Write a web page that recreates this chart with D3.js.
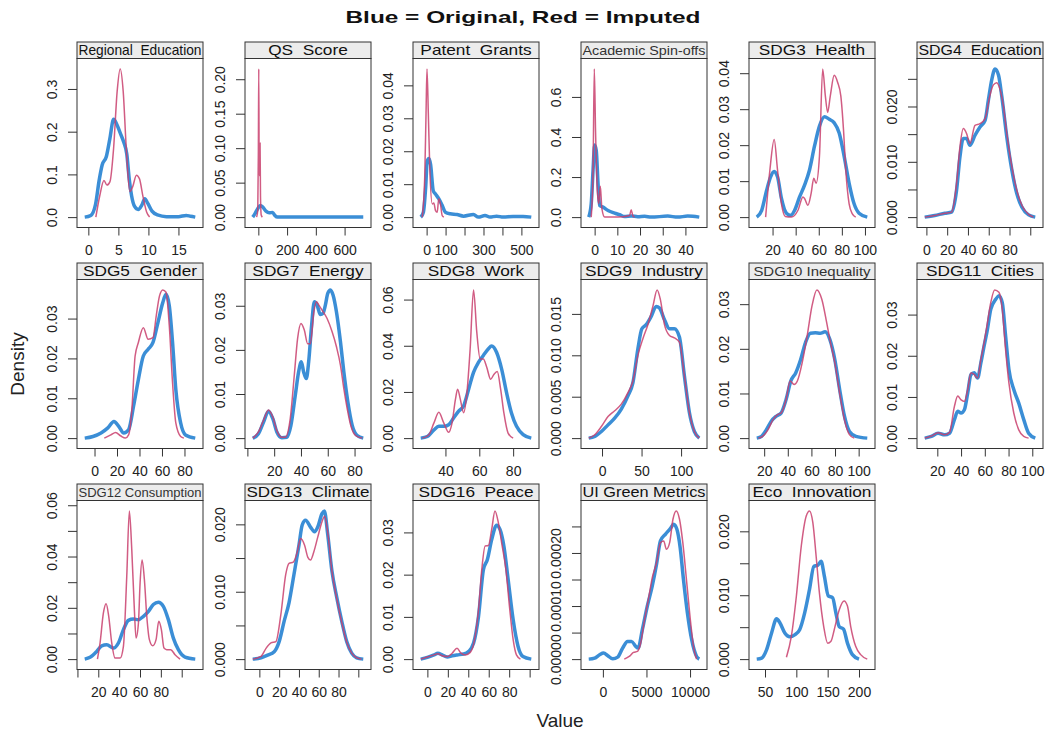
<!DOCTYPE html>
<html lang="en">
<head>
<meta charset="UTF-8">
<title>Density plots: original vs imputed</title>
<script src="https://cdn.jsdelivr.net/npm/d3@7"></script>
<style>
  body { margin: 0; background: #fff; }
  svg text { font-family: "Liberation Sans", Arial, sans-serif; }
</style>
</head>
<body>
<svg class="density-grid"></svg>
<script>
var svgWidth = 1047;
var svgHeight = 734;

var panelTitles = ['Regional  Education', 'QS  Score', 'Patent  Grants', 'Academic Spin-offs',
  'SDG3  Health', 'SDG4  Education', 'SDG5  Gender', 'SDG7  Energy', 'SDG8  Work',
  'SDG9  Industry', 'SDG10 Inequality', 'SDG11  Cities', 'SDG12 Consumption',
  'SDG13  Climate', 'SDG16  Peace', 'UI Green Metrics', 'Eco  Innovation'];

// density curves, [value, density]; obs = blue, imp = red
var obsRegional = [[-0.6,0],[0.4,0.004],[1.2,0.03],[1.8,0.086],[2.3,0.122],[3.0,0.142],[3.6,0.185],[4.2,0.229],[4.8,0.215],[5.3,0.197],[5.9,0.175],[6.4,0.148],[6.8,0.09],[7.2,0.05],[7.7,0.025],[8.3,0.018],[8.9,0.028],[9.4,0.043],[9.9,0.032],[10.6,0.014],[11.5,0.005],[13,0.001],[15,0.001],[16.3,0.004],[17,0.002],[17.8,0]];
var impRegional = [[1.25,0],[1.9,0.05],[2.6,0.086],[3.1,0.075],[3.6,0.083],[4.2,0.16],[4.8,0.295],[5.3,0.347],[5.8,0.295],[6.3,0.165],[6.9,0.06],[7.4,0.072],[8.0,0.098],[8.5,0.09],[9.1,0.048],[9.7,0.012],[10.2,0]];

var obsQS = [[-39,0],[-23,0.005],[-5,0.012],[14,0.017],[30,0.0146],[53,0.0087],[76,0.0063],[99,0.0068],[115,0.0024],[133,0],[300,0],[500,0],[730,0]];
var impQS = [[-12,0],[-4,0.01],[0,0.09],[3,0.215],[6,0.06],[9,0.1],[12,0.107],[15,0.03],[20,0.003],[28,0]];

var obsPatent = [[-31,0],[-17,0.0015],[-5,0.009],[3,0.017],[12,0.0178],[21,0.016],[35,0.008],[47,0.007],[64,0.0056],[82,0.0036],[99,0.0015],[125,0.001],[160,0.0008],[195,0.0003],[247,0.0008],[273,0],[308,0.0005],[334,0],[369,0.0003],[404,0],[456,0.0002],[509,0.0002],[552,0]];
var impPatent = [[-23,0],[-10,0.012],[-3,0.0316],[2,0.045],[9,0.0316],[17,0.0143],[30,0.004],[38,0.0043],[47,0.002],[56,0.0015],[64,0.0056],[73,0.004],[82,0.0005],[91,0]];

var obsSpinoff = [[-2.6,0],[-1.5,0.067],[-0.7,0.234],[0,0.36],[0.7,0.334],[1.5,0.167],[2.2,0.058],[3.7,0.05],[5.9,0.033],[8.8,0.02],[11,0.012],[13.2,0.003],[16.1,0.006],[19,0.002],[22,0.004],[24.9,0],[32.2,0.005],[36.6,0],[41,0.005],[43.2,0.004],[46.1,0]];
var impSpinoff = [[-1.5,0],[-0.7,0.23],[-0.15,0.74],[0.4,0.43],[1.2,0.13],[1.8,0.067],[2.5,0.154],[3.2,0.042],[4.4,0],[10.2,0],[15.4,0.008],[16.1,0.037],[16.8,0.008],[17.6,0]];

var obsHealth = [[6.3,0],[10.6,0.0019],[14.9,0.0075],[18.3,0.0112],[21.4,0.0127],[24.3,0.0112],[27.7,0.0052],[32,0.0011],[35.7,0.0005],[39.1,0.0019],[43.4,0.0056],[47.7,0.0089],[52,0.0131],[56.3,0.0197],[60.6,0.0253],[64.9,0.0279],[69.1,0.0272],[73.4,0.0262],[77.7,0.0234],[82,0.0169],[86.3,0.0094],[90.6,0.0037],[94.9,0.0011],[102,0]];
var impHealth = [[14,0],[17.7,0.0131],[21.4,0.0216],[24.3,0.0131],[27.7,0.0037],[31.1,0.0002],[36.3,0],[42,0.0019],[46.3,0.0056],[47.7,0.0052],[50.6,0.0033],[53.4,0.0066],[55.7,0.0108],[57.7,0.0094],[60.6,0.0169],[63.4,0.0412],[65.7,0.0337],[67.7,0.0291],[70,0.0337],[73.4,0.0394],[76.3,0.0375],[79.1,0.0337],[81.4,0.0244],[83.4,0.0131],[86.3,0.0037],[89.1,0.0009],[92,0]];

var obsEducation = [[-1.6,0],[8,0.0003],[17.7,0.0007],[24.2,0.0009],[29,0.0048],[32.3,0.0109],[35.5,0.0142],[38.7,0.0142],[41.9,0.013],[46.8,0.0148],[51.6,0.0163],[56.5,0.0175],[59.7,0.0212],[62.9,0.0248],[66.1,0.0268],[69.4,0.0257],[72.6,0.0218],[77.4,0.0145],[82.3,0.0085],[87.1,0.0042],[92,0.0018],[98.4,0.0004],[104.8,0]];
var impEducation = [[-1.6,0],[8,0.0003],[17.7,0.0007],[24.2,0.0009],[29,0.006],[32.3,0.0127],[35.5,0.016],[38.7,0.0151],[41.9,0.0133],[46.8,0.0166],[51.6,0.0169],[56.5,0.0178],[61.3,0.0221],[64.5,0.0239],[67.7,0.0243],[71,0.023],[74.2,0.02],[77.4,0.0151],[82.3,0.0091],[87.1,0.0048],[92,0.0021],[98.4,0.0005],[103,0]];

var obsGender = [[-8.7,0],[-1.4,0.0004],[5.8,0.0013],[11.6,0.0025],[17.3,0.0042],[21.7,0.0029],[26,0.0013],[30.3,0.0021],[34.7,0.008],[39,0.0147],[43.4,0.0206],[47.7,0.0223],[52,0.024],[56.4,0.029],[60.7,0.034],[63.6,0.0361],[66.5,0.0332],[69.4,0.024],[72.3,0.0122],[76.6,0.0038],[80.9,0.0008],[89.6,0]];
var impGender = [[8.7,0],[14.5,0.0008],[18.8,0.0014],[23.1,0.0006],[27.5,0],[30.3,0.0008],[33.2,0.0071],[36.1,0.0206],[39,0.024],[43.4,0.0277],[47.7,0.0248],[52,0.0252],[54.9,0.0307],[57.8,0.0357],[60.7,0.0372],[63.6,0.0366],[66.5,0.0282],[69.4,0.0139],[72.3,0.0038],[76.6,0.0004],[79.5,0]];

var obsEnergy = [[4,0],[8.25,0.001],[12,0.0036],[15.75,0.0061],[19,0.0044],[22,0.0014],[25.75,0.0001],[29.5,0.0002],[32.5,0.0029],[35.75,0.0097],[38.25,0.015],[40.25,0.0173],[42,0.015],[44,0.0135],[45.75,0.0173],[47.75,0.0248],[50,0.0309],[52,0.0302],[54.5,0.028],[56.5,0.0283],[58.25,0.0302],[60,0.0328],[62,0.0336],[64,0.0324],[66.5,0.0286],[69.5,0.0218],[72,0.015],[75,0.0082],[78.25,0.0029],[82,0.0006],[86.5,0]];
var impEnergy = [[4,0],[8.25,0.0014],[12,0.004],[15.75,0.0064],[19,0.0048],[22,0.0017],[25.75,0.0002],[28.25,0.0002],[32,0.0044],[35,0.0142],[37.5,0.0226],[40,0.026],[42.5,0.0245],[45,0.0214],[47,0.0214],[49.5,0.0283],[51.5,0.0309],[53.25,0.0302],[55.75,0.029],[59.5,0.0271],[63.25,0.0241],[66.5,0.0207],[69.5,0.0165],[72,0.0112],[74.5,0.0067],[77.5,0.0025],[80.75,0.0006],[85.75,0]];

var obsWork = [[25.4,0],[29.3,0.0007],[33.2,0.0036],[36.1,0.0051],[39,0.0051],[41.9,0.0058],[44.9,0.0088],[47.8,0.0117],[50.7,0.0139],[53.7,0.0212],[56.6,0.0285],[59.5,0.0328],[62.4,0.0358],[65.4,0.0387],[67.3,0.0399],[70.2,0.0372],[73.2,0.0299],[76.1,0.0197],[79,0.0109],[82,0.0051],[85.9,0.0015],[90.7,0]];
var impWork = [[26.3,0],[30.2,0.0015],[33.2,0.0066],[36.1,0.0112],[39,0.0066],[41.9,0.0025],[43.9,0.0066],[45.9,0.0168],[47.2,0.0212],[48.8,0.0168],[50.7,0.011],[52.7,0.0197],[54.6,0.0387],[56.6,0.0642],[58.5,0.046],[60.5,0.0343],[62.4,0.0343],[64.4,0.0307],[66.7,0.0255],[68.7,0.0277],[70.6,0.0288],[72.6,0.0212],[74.5,0.011],[77,0.0022],[80,0]];

var obsIndustry = [[-16.8,0],[-9.2,0.0002],[-0.8,0.0008],[7.6,0.0016],[16,0.0024],[24.4,0.0035],[32.8,0.0051],[39.1,0.0067],[45.4,0.0108],[50.4,0.0132],[55.9,0.0137],[62.2,0.0147],[68.5,0.0159],[72.7,0.0157],[79,0.0143],[85.3,0.0132],[91.6,0.0132],[97.9,0.0122],[104.2,0.0075],[110.5,0.0031],[116.8,0.0008],[123,0]];
var impIndustry = [[-16.8,0],[-9.2,0.0004],[-0.8,0.0014],[7.6,0.0026],[16,0.0033],[24.4,0.0041],[32.8,0.0055],[39.1,0.0069],[45.4,0.01],[51.7,0.012],[58,0.0137],[64.3,0.0159],[69.7,0.0179],[73.9,0.0167],[79,0.0137],[85.3,0.0124],[91.6,0.0121],[97.9,0.0116],[104.2,0.0075],[110.5,0.0031],[116.8,0.0008],[123,0]];

var obsInequality = [[13.7,0],[17.8,0.0004],[21.9,0.0019],[26,0.0038],[30.2,0.0049],[34.3,0.0056],[38.5,0.0086],[42.6,0.0128],[46.7,0.0146],[50.9,0.0176],[55,0.0214],[59.1,0.0235],[63.3,0.0236],[67.4,0.0235],[71.6,0.0238],[75.6,0.0221],[79.8,0.0176],[83.9,0.0109],[88,0.0049],[92.2,0.0015],[97.7,0.0004],[107.3,0]];
var impInequality = [[15,0],[19.2,0.0005],[23.3,0.0019],[27.4,0.0041],[31.6,0.0053],[34.3,0.0056],[38.5,0.0086],[42,0.0128],[45.3,0.012],[48.1,0.0128],[52.2,0.0169],[56.4,0.0229],[60.5,0.0296],[64.6,0.0332],[68.8,0.0311],[72.9,0.0259],[75.6,0.0221],[79.8,0.0169],[83.9,0.0101],[88,0.0041],[92.2,0.0008],[96.3,0]];

var obsCities = [[9.4,0],[15,0.0004],[20.6,0.0012],[26.1,0.0008],[30.3,0.0012],[34.4,0.0045],[37.2,0.0065],[40,0.0061],[42.8,0.0069],[45.6,0.011],[48.3,0.0154],[51.1,0.0159],[53.9,0.0146],[56.7,0.0183],[59.4,0.0224],[62.2,0.0264],[65,0.0313],[69.2,0.0337],[71.9,0.0346],[74.7,0.0329],[77.5,0.0248],[80.3,0.0167],[84.4,0.0118],[88.6,0.0085],[92.8,0.0045],[96.9,0.0012],[102.5,0]];
var impCities = [[9.4,0],[15,0.0005],[20.6,0.0013],[26.1,0.0008],[30.3,0.0014],[34.4,0.0077],[37.2,0.0102],[40,0.0093],[42.8,0.0089],[45.6,0.0118],[48.3,0.0159],[51.1,0.0154],[53.9,0.0146],[56.7,0.0191],[59.4,0.0232],[62.2,0.028],[65,0.0329],[68.3,0.036],[71.9,0.0354],[74.7,0.0313],[77.5,0.0215],[80.3,0.0134],[84.4,0.0061],[88.6,0.002],[92.8,0.0004],[96.9,0]];

var obsConsumption = [[7,0],[12.1,0.0007],[18.5,0.003],[23.3,0.0052],[28.1,0.0056],[34.5,0.0043],[39.3,0.0063],[44.1,0.0115],[48.9,0.0151],[53.7,0.0156],[58.5,0.0154],[63.3,0.0167],[68.1,0.0186],[72.8,0.0213],[77.6,0.0222],[82.4,0.0206],[87.2,0.0154],[92,0.0082],[96.8,0.0037],[103.2,0.0008],[113,0]];
var impConsumption = [[19.2,0],[21.7,0.0063],[24.9,0.018],[27.5,0.0216],[30,0.0167],[32.9,0.0063],[36.1,0.0004],[40.9,0.0004],[44.1,0.005],[47.3,0.0323],[49.8,0.0578],[52.1,0.0428],[54.6,0.0193],[56.2,0.0082],[58.5,0.0141],[60.1,0.0298],[62,0.0386],[64.2,0.0311],[66.5,0.0167],[69,0.0076],[72.2,0.0052],[75.4,0.0076],[78,0.0148],[80.5,0.0115],[83,0.0043],[85.6,0.0037],[89.5,0.0037],[93.6,0.0017],[98.4,0]];

var obsClimate = [[-6.7,0],[1.7,0.0002],[8.3,0.0006],[15,0.0011],[20,0.0026],[25,0.0056],[30,0.0084],[35,0.0126],[40,0.0169],[43.3,0.0199],[46.7,0.0206],[51.7,0.0196],[55.7,0.0189],[59,0.0196],[63.3,0.0216],[65.7,0.022],[69,0.0186],[73.3,0.0131],[78.3,0.0091],[83.3,0.0056],[88.3,0.0026],[93.3,0.0009],[98.3,0.0002],[105,0]];
var impClimate = [[-6.7,0],[1.7,0.0004],[6.7,0.0016],[11.7,0.0024],[16.7,0.0026],[21.7,0.0066],[26.7,0.0126],[30,0.0142],[34.3,0.0144],[38.3,0.0159],[41.7,0.0179],[45.7,0.0169],[49,0.0151],[51.7,0.0147],[55,0.0159],[59,0.0181],[63.3,0.0204],[66,0.0212],[69,0.0189],[73.3,0.0131],[78.3,0.0089],[83.3,0.0054],[88.3,0.0025],[93.3,0.0009],[98.3,0.0002],[103.3,0]];

var obsPeace = [[-6.5,0],[0,0.0004],[6.5,0.001],[10.3,0.0014],[14.5,0.001],[19.4,0.0005],[24.2,0.0008],[29,0.001],[35.5,0.0012],[40.3,0.0018],[45.2,0.0038],[50,0.0101],[54.8,0.0212],[58.7,0.0236],[62.9,0.0283],[67.7,0.0317],[71,0.0307],[74.8,0.0268],[79,0.0188],[83.9,0.0093],[88.7,0.003],[93.5,0.0006],[101.6,0]];
var impPeace = [[-6.5,0],[0,0.0005],[6.5,0.001],[10.3,0.0013],[14.5,0.0008],[19.4,0.0006],[24.2,0.0014],[29,0.0026],[32.9,0.0014],[37.1,0.001],[41.9,0.0016],[45.8,0.0042],[50,0.0117],[53.2,0.0212],[56.5,0.0268],[59.7,0.0269],[62.9,0.0307],[66.1,0.0351],[69.4,0.0323],[72.6,0.0276],[76.8,0.0212],[80.6,0.0117],[83.9,0.0046],[87.1,0.001],[91,0]];

var obsGreen = [[-1623,0],[-943,0.0000019],[-377,0.0000082],[75,0.0000114],[566,0.0000063],[1132,0.0000006],[1698,0.0000038],[2264,0.0000208],[2830,0.0000334],[3283,0.0000334],[3774,0.000024],[4038,0.0000208],[4528,0.0000555],[5094,0.0000996],[5660,0.0001374],[6151,0.0001784],[6604,0.0002226],[7170,0.0002352],[7736,0.0002459],[8113,0.000254],[8491,0.0002446],[8868,0.00021],[9245,0.00015],[9698,0.000087],[10189,0.0000366],[10755,0.000005],[11057,0]];
var impGreen = [[2453,0],[3019,0.000005],[3509,0.0000126],[3962,0.0000145],[4340,0.0000303],[4717,0.000068],[5283,0.0001185],[5660,0.000153],[6151,0.0001816],[6604,0.0002194],[6981,0.0002226],[7283,0.0002068],[7660,0.0002194],[8038,0.0002635],[8415,0.0002793],[8792,0.0002635],[9170,0.0002194],[9623,0.0001437],[10075,0.000068],[10453,0.0000177],[10755,0]];

var obsEco = [[36.8,0],[44.7,0.00016],[52.6,0.0015],[60.5,0.0041],[68.4,0.0063],[73.7,0.0057],[81.6,0.0041],[89.5,0.0035],[97.4,0.0038],[105.3,0.0046],[113.2,0.0072],[121,0.0109],[127.9,0.0145],[134.2,0.0147],[139.5,0.0153],[144.7,0.013],[151,0.0099],[157.9,0.0096],[163.2,0.0072],[168.4,0.0051],[175.3,0.0047],[181.6,0.0025],[189.5,0.0007],[200,0]];
var impEco = [[84.2,0.0003],[92.1,0.0036],[100,0.0098],[107.9,0.0177],[115.8,0.0224],[121,0.0232],[126.3,0.0214],[131.6,0.0161],[136.8,0.0104],[143.7,0.0051],[150,0.0025],[155.3,0.0028],[160.5,0.0046],[168.4,0.0077],[176.3,0.0091],[181.6,0.0083],[186.8,0.0051],[194.7,0.002],[202.6,0.0007],[213.2,0]];

// tick positions and their printed labels ('' = tick without label)
var xTicks = [[0,5,10,15],[0,200,400,600],[0,100,200,300,400,500],[0,10,20,30,40],
  [20,40,60,80,100],[0,20,40,60,80,100],[0,20,40,60,80],[0,20,40,60,80],[40,60,80],
  [0,50,100],[20,40,60,80,100],[20,40,60,80,100],[0,20,40,60,80,100],
  [0,20,40,60,80,100],[0,20,40,60,80,100],[0,5000,10000],[50,100,150,200]];
var xTickLabels = [['0','5','10','15'],['0','200','400','600'],['0','100','','300','','500'],['0','10','20','30','40'],
  ['20','40','60','80','100'],['0','20','40','60','80',''],['0','20','40','60','80'],['','20','40','60','80'],['40','60','80'],
  ['0','50','100'],['20','40','60','80','100'],['20','40','60','80','100'],['','20','40','60','80',''],
  ['0','20','40','60','80',''],['0','20','40','60','80',''],['0','5000','10000'],['50','100','150','200']];
var yTicks = [[0,0.1,0.2,0.3],[0,0.05,0.1,0.15,0.2],[0,0.01,0.02,0.03,0.04],[0,0.2,0.4,0.6],
  [0,0.01,0.02,0.03,0.04],[0,0.005,0.01,0.015,0.02,0.025],[0,0.01,0.02,0.03,0.04],[0,0.01,0.02,0.03],[0,0.02,0.04,0.06],
  [0,0.005,0.01,0.015],[0,0.01,0.02,0.03],[0,0.01,0.02,0.03],[0,0.01,0.02,0.03,0.04,0.05,0.06],
  [0,0.005,0.01,0.015,0.02],[0,0.01,0.02,0.03],[0,0.00005,0.0001,0.00015,0.0002,0.00025],[0,0.005,0.01,0.015,0.02]];
var yTickLabels = [['0.0','0.1','0.2','0.3'],['0.00','0.05','0.10','0.15','0.20'],['0.00','0.01','0.02','0.03','0.04'],['0.0','0.2','0.4','0.6'],
  ['0.00','0.01','0.02','0.03','0.04'],['0.000','','0.010','','0.020',''],['0.00','0.01','0.02','0.03',''],['0.00','0.01','0.02','0.03'],['0.00','0.02','0.04','0.06'],
  ['0.000','0.005','0.010','0.015'],['0.00','0.01','0.02','0.03'],['0.00','0.01','0.02','0.03'],['0.00','','0.02','','0.04','','0.06'],
  ['0.000','','0.010','','0.020'],['0.00','0.01','0.02','0.03'],['0.00000','','0.00010','','0.00020',''],['0.000','','0.010','','0.020']];

var obsCurves = [obsRegional, obsQS, obsPatent, obsSpinoff, obsHealth, obsEducation, obsGender, obsEnergy, obsWork,
  obsIndustry, obsInequality, obsCities, obsConsumption, obsClimate, obsPeace, obsGreen, obsEco];
var impCurves = [impRegional, impQS, impPatent, impSpinoff, impHealth, impEducation, impGender, impEnergy, impWork,
  impIndustry, impInequality, impCities, impConsumption, impClimate, impPeace, impGreen, impEco];

// layout
var left0 = 77, top0 = 42;
var colStep = 168, rowStep = 221;
var panelW = 126, stripH = 16.5, plotH = 169;
var narrowTitles = ['Academic Spin-offs', 'SDG10 Inequality', 'SDG12 Consumption'];
var fontFamily = '"Liberation Sans", Arial, sans-serif';

var svg = d3.select('.density-grid')
  .attr('width', svgWidth)
  .attr('height', svgHeight);

svg.append('text')
  .attr('x', 523)
  .attr('y', 23)
  .attr('text-anchor', 'middle')
  .attr('font-size', 17)
  .attr('font-weight', 'bold')
  .attr('textLength', 355)
  .attr('lengthAdjust', 'spacingAndGlyphs')
  .attr('fill', '#111')
  .text('Blue = Original, Red = Imputed');

svg.append('text')
  .attr('transform', 'translate(24,364) rotate(-90)')
  .attr('text-anchor', 'middle')
  .attr('font-size', 19)
  .attr('fill', '#222')
  .text('Density');

svg.append('text')
  .attr('x', 560)
  .attr('y', 727)
  .attr('text-anchor', 'middle')
  .attr('font-size', 19)
  .attr('fill', '#222')
  .text('Value');

panelTitles.forEach(function(title, i) {
  var col = i % 6;
  var row = Math.floor(i / 6);
  var g = svg.append('g')
    .attr('transform', 'translate(' + (left0 + col * colStep) + ',' + (top0 + row * rowStep) + ')');

  // lattice-style limits: data range padded by 7% on each side
  var all = obsCurves[i].concat(impCurves[i]);
  var xExt = d3.extent(all, function(d) { return d[0]; });
  var yExt = d3.extent(all, function(d) { return d[1]; });
  var xPad = (xExt[1] - xExt[0]) * 0.07;
  var yPad = (yExt[1] - yExt[0]) * 0.07;

  var xScale = d3.scaleLinear()
    .domain([xExt[0] - xPad, xExt[1] + xPad])
    .range([0, panelW]);
  var yScale = d3.scaleLinear()
    .domain([yExt[0] - yPad, yExt[1] + yPad])
    .range([stripH + plotH, stripH]);

  var xt = xTicks[i].filter(function(v) { return v >= xScale.domain()[0] && v <= xScale.domain()[1]; });
  var yt = yTicks[i].filter(function(v) { return v >= yScale.domain()[0] && v <= yScale.domain()[1] + 1e-12; });

  var xAxis = d3.axisBottom(xScale)
    .tickValues(xt)
    .tickSize(8)
    .tickPadding(10)
    .tickFormat(function(d) { return xTickLabels[i][xTicks[i].indexOf(d)]; });
  var yAxis = d3.axisLeft(yScale)
    .tickValues(yt)
    .tickSize(9)
    .tickFormat(function(d) { return yTickLabels[i][yTicks[i].indexOf(d)]; });

  g.append('rect')
    .attr('x', 0)
    .attr('y', stripH)
    .attr('width', panelW)
    .attr('height', plotH)
    .attr('fill', '#fff');

  var line = d3.line()
    .x(function(d) { return xScale(d[0]); })
    .y(function(d) { return yScale(d[1]); })
    .curve(d3.curveMonotoneX);

  g.append('path')
    .datum(obsCurves[i])
    .attr('d', line)
    .attr('fill', 'none')
    .attr('stroke', '#2a84d2')
    .attr('stroke-width', 3.5)
    .attr('stroke-linejoin', 'round')
    .attr('opacity', 0.92);

  g.append('path')
    .datum(impCurves[i])
    .attr('d', line)
    .attr('fill', 'none')
    .attr('stroke', '#c93f6d')
    .attr('stroke-width', 1.5)
    .attr('opacity', 0.85);

  g.append('rect')
    .attr('x', 0)
    .attr('y', stripH)
    .attr('width', panelW)
    .attr('height', plotH)
    .attr('fill', 'none')
    .attr('stroke', '#333');

  // d3 sets font-size 10 on the axis group, so restyle after the call
  var gx = g.append('g')
    .attr('transform', 'translate(0,' + (stripH + plotH) + ')')
    .call(xAxis)
    .attr('font-size', 14)
    .attr('font-family', fontFamily);
  gx.select('.domain').remove();
  gx.selectAll('.tick line').attr('stroke', '#333');
  gx.selectAll('.tick text').attr('fill', '#222');

  var gy = g.append('g')
    .call(yAxis)
    .attr('font-size', 14)
    .attr('font-family', fontFamily);
  gy.select('.domain').remove();
  gy.selectAll('.tick line').attr('stroke', '#333');
  gy.selectAll('.tick text')
    .attr('x', 0)
    .attr('dy', 0)
    .attr('text-anchor', 'middle')
    .attr('fill', '#222')
    .attr('transform', 'translate(-20,0) rotate(-90)');

  // strip with the variable name
  g.append('rect')
    .attr('x', 0)
    .attr('y', 0)
    .attr('width', panelW)
    .attr('height', stripH)
    .attr('fill', '#ececec')
    .attr('stroke', '#333');

  var narrow = narrowTitles.indexOf(title) >= 0;
  var st = g.append('text')
    .attr('x', panelW / 2)
    .attr('y', stripH - 3.5)
    .attr('text-anchor', 'middle')
    .attr('font-size', narrow ? 13 : 15)
    .attr('fill', narrow ? '#333' : '#111')
    .style('white-space', 'pre')
    .text(title);
  var w = st.node().getComputedTextLength();
  st.attr('textLength', Math.min(w * 1.15, panelW - 3))
    .attr('lengthAdjust', 'spacingAndGlyphs');
});
</script>
</body>
</html>
